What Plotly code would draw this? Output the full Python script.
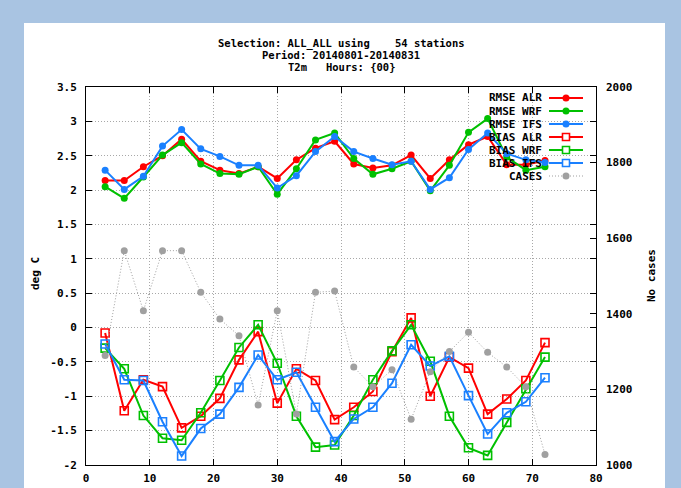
import plotly.graph_objects as go

# ---------------- data ----------------
hours = [3, 6, 9, 12, 15, 18, 21, 24, 27, 30, 33, 36, 39, 42, 45, 48, 51, 54, 57, 60, 63, 66, 69, 72]

rmse_alr = [2.14, 2.14, 2.34, 2.50, 2.74, 2.42, 2.29, 2.24, 2.34, 2.17, 2.44, 2.61, 2.71, 2.38, 2.32, 2.36, 2.51, 2.17, 2.44, 2.66, 2.78, 2.37, 2.37, 2.43]
rmse_wrf = [2.05, 1.88, 2.19, 2.51, 2.69, 2.38, 2.24, 2.23, 2.34, 1.94, 2.31, 2.73, 2.83, 2.46, 2.23, 2.31, 2.42, 1.99, 2.36, 2.84, 3.04, 2.48, 2.29, 2.34]
rmse_ifs = [2.29, 2.01, 2.20, 2.64, 2.88, 2.60, 2.49, 2.36, 2.36, 2.03, 2.21, 2.56, 2.78, 2.56, 2.46, 2.37, 2.42, 2.01, 2.18, 2.59, 2.83, 2.53, 2.44, 2.40]

bias_alr = [-0.08, -1.21, -0.76, -0.86, -1.46, -1.29, -1.03, -0.47, -0.06, -1.10, -0.60, -0.77, -1.34, -1.16, -0.93, -0.35, 0.14, -1.00, -0.43, -0.59, -1.26, -1.04, -0.77, -0.22]
bias_wrf = [-0.30, -0.60, -1.28, -1.61, -1.64, -1.24, -0.77, -0.29, 0.04, -0.52, -1.29, -1.74, -1.71, -1.28, -0.76, -0.34, 0.04, -0.49, -1.29, -1.75, -1.86, -1.38, -0.89, -0.43]
bias_ifs = [-0.24, -0.76, -0.77, -1.37, -1.87, -1.47, -1.26, -0.87, -0.40, -0.76, -0.65, -1.16, -1.66, -1.33, -1.16, -0.81, -0.25, -0.56, -0.42, -0.99, -1.55, -1.24, -1.08, -0.73]

cases = [1290, 1567, 1408, 1567, 1567, 1457, 1386, 1342, 1159, 1408, 1135, 1457, 1460, 1259, 1207, 1252, 1121, 1247, 1300, 1351, 1298, 1259, 1207, 1028]

series_names = ["RMSE ALR", "RMSE WRF", "RMSE IFS", "BIAS ALR", "BIAS WRF", "BIAS IFS", "CASES"]

title_lines = ["Selection: ALL_ALL using    54 stations",
               "Period: 20140801-20140831",
               "T2m   Hours: {00}"]

y_ticks = [3.5, 3, 2.5, 2, 1.5, 1, 0.5, 0, -0.5, -1, -1.5, -2]
y_ticklabels = ["3.5", "3", "2.5", "2", "1.5", "1", "0.5", "0", "-0.5", "-1", "-1.5", "-2"]
x_ticks = [0, 10, 20, 30, 40, 50, 60, 70, 80]
y2_ticks = [1000, 1200, 1400, 1600, 1800, 2000]

# ---------------- style ----------------
RED, GREEN, BLUE, GRAY = "#ff0000", "#00c000", "#1a80ff", "#a0a0a0"
MONO = "DejaVu Sans Mono"
FONT = dict(family=MONO, size=11, color="black", weight="bold")
TFONT = dict(family=MONO, size=10.5, color="black", weight="bold")
W, H = 681, 488
ML, MR, MT, MB = 86, 85, 87, 23
PW, PH = W - ML - MR, H - MT - MB


def px_x(px):
    return (px - ML) / PW


def px_y(py):
    return 1 - (py - MT) / PH


fig = go.Figure()

colors = [RED, GREEN, BLUE, RED, GREEN, BLUE, GRAY]
all_vals = [rmse_alr, rmse_wrf, rmse_ifs, bias_alr, bias_wrf, bias_ifs]

for i in range(3):
    fig.add_trace(go.Scatter(x=hours, y=all_vals[i], name=series_names[i], mode="lines+markers",
                             line=dict(color=colors[i], width=2),
                             marker=dict(symbol="circle", size=7, color=colors[i])))
for i in range(3, 6):
    fig.add_trace(go.Scatter(x=hours, y=all_vals[i], name=series_names[i], mode="lines+markers",
                             line=dict(color=colors[i], width=2),
                             marker=dict(symbol="square-open", size=8, color=colors[i],
                                         line=dict(width=1.6, color=colors[i]))))

fig.add_trace(go.Scatter(x=hours, y=cases, name=series_names[6], yaxis="y2", mode="lines+markers",
                         line=dict(color=GRAY, width=1, dash="1px,2px"),
                         marker=dict(symbol="circle", size=7, color=GRAY)))

annotations = []
for i, t in enumerate(title_lines):
    annotations.append(dict(text=t, xref="paper", yref="paper", x=0.5, y=px_y(43 + 12 * i),
                            xanchor="center", yanchor="middle", showarrow=False, font=TFONT, borderpad=0))
annotations.append(dict(text="deg C", xref="paper", yref="paper", x=px_x(35), y=px_y(274), textangle=-90,
                        xanchor="center", yanchor="middle", showarrow=False, font=FONT))
annotations.append(dict(text="No cases", xref="paper", yref="paper", x=px_x(651), y=px_y(276), textangle=-90,
                        xanchor="center", yanchor="middle", showarrow=False, font=FONT))

shapes = [dict(type="rect", xref="paper", yref="paper", x0=px_x(24), x1=px_x(665),
               y0=-0.2, y1=px_y(23), fillcolor="white", line=dict(width=0), layer="below")]

# ---- custom key (text left of sample, as in the reference) ----
key_rows = [98, 111, 124, 137, 150, 163, 176]
lx0, lx1, lxm, ltext = px_x(549), px_x(583), px_x(566), px_x(543)
for i, name in enumerate(series_names):
    yk = px_y(key_rows[i])
    col = colors[i]
    annotations.append(dict(text=name, xref="paper", yref="paper", x=ltext, y=yk, xanchor="right",
                            yanchor="middle", showarrow=False, font=FONT, borderpad=0))
    if i < 6:
        shapes.append(dict(type="line", xref="paper", yref="paper", x0=lx0, x1=lx1, y0=yk, y1=yk,
                           line=dict(color=col, width=2)))
    else:
        shapes.append(dict(type="line", xref="paper", yref="paper", x0=lx0, x1=lx1, y0=yk, y1=yk,
                           line=dict(color=col, width=1, dash="1px,2px")))
    if i < 3 or i == 6:
        shapes.append(dict(type="circle", xref="paper", yref="paper", xsizemode="pixel", ysizemode="pixel",
                           xanchor=lxm, yanchor=yk, x0=-3.5, x1=3.5, y0=-3.5, y1=3.5,
                           fillcolor=col, line=dict(color=col, width=0)))
    else:
        shapes.append(dict(type="rect", xref="paper", yref="paper", xsizemode="pixel", ysizemode="pixel",
                           xanchor=lxm, yanchor=yk, x0=-3.5, x1=3.5, y0=-3.5, y1=3.5,
                           fillcolor="white", line=dict(color=col, width=1.6)))

fig.update_layout(
    width=W, height=H,
    margin=dict(l=ML, r=MR, t=MT, b=MB, autoexpand=False),
    paper_bgcolor="#a9c4e2",
    plot_bgcolor="white",
    font=FONT,
    showlegend=False,
    shapes=shapes,
    annotations=annotations,
    xaxis=dict(range=[0, 80], tickvals=x_ticks, ticks="inside", ticklen=6, mirror="ticks",
               showline=True, linecolor="black", linewidth=1, tickcolor="black", automargin=False,
               showgrid=True, gridcolor="#a8a8a8", griddash="1px,2px", gridwidth=1, zeroline=False,
               tickfont=FONT, ticklabelstandoff=3),
    yaxis=dict(range=[-2, 3.5], tickvals=y_ticks, ticktext=y_ticklabels, ticks="inside", ticklen=6,
               mirror="ticks", showline=True, linecolor="black", linewidth=1, tickcolor="black",
               automargin=False,
               showgrid=True, gridcolor="#a8a8a8", griddash="1px,2px", gridwidth=1, zeroline=False,
               tickfont=FONT, ticklabelstandoff=6),
    yaxis2=dict(range=[1000, 2000], tickvals=y2_ticks, overlaying="y", side="right", ticks="inside",
                ticklen=6, tickcolor="black", showgrid=False, zeroline=False, showline=False,
                automargin=False, tickfont=FONT, ticklabelstandoff=9),
)

fig.write_html("out.html")
